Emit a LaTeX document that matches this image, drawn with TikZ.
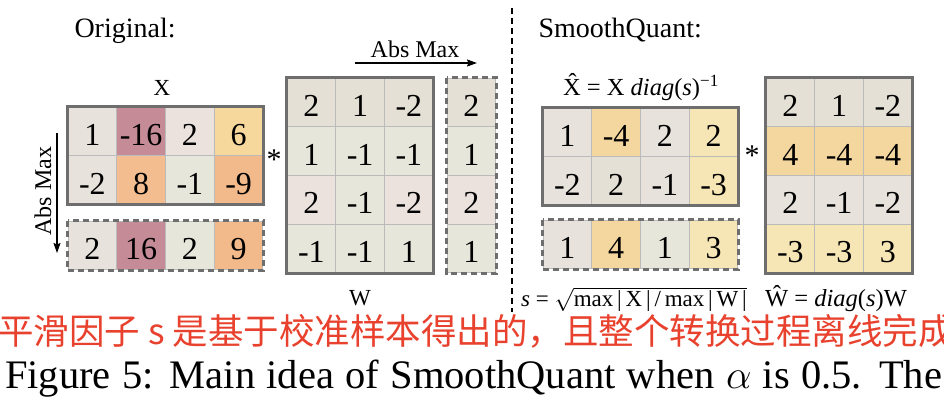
\RequirePackage{fix-cm}
\documentclass[tikz,border=0pt]{standalone}
\usepackage{fontspec}
\setmainfont{Liberation Serif}
\newfontfamily\cjk{Noto Sans CJK SC}
\usetikzlibrary{arrows.meta}
\definecolor{gridc}{HTML}{BBBBBB}
\definecolor{borderc}{HTML}{6E6E6E}
\definecolor{cgray}{HTML}{E7E2DB}
\definecolor{cbeige}{HTML}{E4E0D5}
\definecolor{cgreen}{HTML}{E6E6DB}
\definecolor{cpink}{HTML}{EBE1DD}
\definecolor{cmauve}{HTML}{C58B96}
\definecolor{cyel}{HTML}{F6D89C}
\definecolor{corange}{HTML}{F4BD8F}
\definecolor{corangeb}{HTML}{F2B98A}
\definecolor{cyelb}{HTML}{F4D79F}
\definecolor{cyelc}{HTML}{F7E6B5}
\definecolor{cnred}{RGB}{232,65,45}
\newcommand\cellat[4]{\node[cell,fill=#3] (#1) at #2 {#4};}
\begin{document}
\begin{tikzpicture}[x=1pt,y=-1pt,
  cell/.style={draw=gridc, line width=1pt, minimum width=48.75pt, minimum height=48.75pt,
    inner sep=0pt, text height=28pt, text depth=0pt, font=\fontsize{32}{32}\selectfont},
  outer/.style={draw=borderc, line width=3pt},
  dashbox/.style={draw=borderc, line width=2.5pt, dash pattern=on 6pt off 4pt},
  divider/.style={draw=black, line width=2.5pt, dash pattern=on 6pt off 4pt},
  lbl/.style={font=\fontsize{23}{23}\selectfont},
  flbl/.style={font=\fontsize{24.5}{24.5}\selectfont},
  abst/.style={font=\fontsize{24}{24}\selectfont},
  title/.style={font=\fontsize{28}{28}\selectfont, anchor=base west},
  arr/.style={line width=1.5pt, -{Stealth[length=10pt,width=7pt,inset=1.5pt]}},
  star/.style={font=\fontsize{30}{30}\selectfont, inner sep=0pt}
]
\useasboundingbox (0,0) rectangle (944,402);

% titles
\node[title] (orig) at (71,37) {Original:};
\node[title] (smq) at (535,37) {SmoothQuant:};

% divider
\coordinate (d1) at (512,8);
\coordinate (d2) at (512,312);
\draw[divider] (d1) -- (d2);

% ---------- Original X ----------
\cellat{x11}{(92.4,131.4)}{cgray}{1}
\cellat{x12}{(141.1,131.4)}{cmauve}{-16}
\cellat{x13}{(189.9,131.4)}{cpink}{2}
\cellat{x14}{(238.6,131.4)}{cyel}{6}
\cellat{x21}{(92.4,180.1)}{cgray}{-2}
\cellat{x22}{(141.1,180.1)}{corange}{8}
\cellat{x23}{(189.9,180.1)}{cgreen}{-1}
\cellat{x24}{(238.6,180.1)}{corangeb}{-9}
\draw[outer] (x11.north west) rectangle (x24.south east);

\cellat{xa1}{(92.4,245.6)}{cgray}{2}
\cellat{xa2}{(141.1,245.6)}{cmauve}{16}
\cellat{xa3}{(189.9,245.6)}{cgreen}{2}
\cellat{xa4}{(238.6,245.6)}{corangeb}{9}
\draw[dashbox] (xa1.north west) rectangle (xa4.south east);

\node[lbl, anchor=base] (xl) at (162,95) {X};

% vertical abs max arrow
\coordinate (va1) at (57,133);
\coordinate (va2) at (57,253);
\draw[arr] (va1) -- (va2);
\node[abst, rotate=90] (vat) at (43,191) {Abs Max};

\node[star] (st1) at (274,160) {*};

% ---------- Original W ----------
\cellat{w11}{(311.4,102.4)}{cbeige}{2}
\cellat{w12}{(360.1,102.4)}{cbeige}{1}
\cellat{w13}{(408.9,102.4)}{cbeige}{-2}
\cellat{w21}{(311.4,151.1)}{cgreen}{1}
\cellat{w22}{(360.1,151.1)}{cgreen}{-1}
\cellat{w23}{(408.9,151.1)}{cgreen}{-1}
\cellat{w31}{(311.4,199.9)}{cpink}{2}
\cellat{w32}{(360.1,199.9)}{cgreen}{-1}
\cellat{w33}{(408.9,199.9)}{cpink}{-2}
\cellat{w41}{(311.4,248.6)}{cgreen}{-1}
\cellat{w42}{(360.1,248.6)}{cgreen}{-1}
\cellat{w43}{(408.9,248.6)}{cgreen}{1}
\draw[outer] (w11.north west) rectangle (w43.south east);

\cellat{wa1}{(471.4,102.4)}{cbeige}{2}
\cellat{wa2}{(471.4,151.1)}{cgreen}{1}
\cellat{wa3}{(471.4,199.9)}{cpink}{2}
\cellat{wa4}{(471.4,248.6)}{cgreen}{1}
\draw[dashbox] (wa1.north west) rectangle (wa4.south east);

\node[lbl, anchor=base] (wl) at (360,305) {W};

% top abs max arrow
\coordinate (ha1) at (355,63);
\coordinate (ha2) at (477,63);
\draw[arr] (ha1) -- (ha2);
\node[abst, anchor=base] (hat) at (415,57) {Abs Max};

% ---------- SmoothQuant X hat ----------
\cellat{y11}{(567.4,132.4)}{cgray}{1}
\cellat{y12}{(616.1,132.4)}{cyelb}{-4}
\cellat{y13}{(664.9,132.4)}{cgray}{2}
\cellat{y14}{(713.6,132.4)}{cyelc}{2}
\cellat{y21}{(567.4,181.1)}{cgray}{-2}
\cellat{y22}{(616.1,181.1)}{cbeige}{2}
\cellat{y23}{(664.9,181.1)}{cgray}{-1}
\cellat{y24}{(713.6,181.1)}{cyelc}{-3}
\draw[outer] (y11.north west) rectangle (y24.south east);

\cellat{ya1}{(567.4,244.6)}{cgray}{1}
\cellat{ya2}{(616.1,244.6)}{cyelb}{4}
\cellat{ya3}{(664.9,244.6)}{cgreen}{1}
\cellat{ya4}{(713.6,244.6)}{cyelc}{3}
\draw[dashbox] (ya1.north west) rectangle (ya4.south east);

\node[flbl, anchor=base] (yl) at (641,95) {\^{X} = X \textit{diag}(\textit{s})\textsuperscript{−1}};

\node[star] (st2) at (752,156) {*};

% ---------- SmoothQuant W hat ----------
\cellat{v11}{(790.4,102.4)}{cbeige}{2}
\cellat{v12}{(839.1,102.4)}{cbeige}{1}
\cellat{v13}{(887.9,102.4)}{cbeige}{-2}
\cellat{v21}{(790.4,151.1)}{cyelb}{4}
\cellat{v22}{(839.1,151.1)}{cyelb}{-4}
\cellat{v23}{(887.9,151.1)}{cyelb}{-4}
\cellat{v31}{(790.4,199.9)}{cgray}{2}
\cellat{v32}{(839.1,199.9)}{cgray}{-1}
\cellat{v33}{(887.9,199.9)}{cgray}{-2}
\cellat{v41}{(790.4,248.6)}{cyelc}{-3}
\cellat{v42}{(839.1,248.6)}{cyelc}{-3}
\cellat{v43}{(887.9,248.6)}{cyelc}{3}
\draw[outer] (v11.north west) rectangle (v43.south east);

% formulas
\node[lbl, anchor=base west, inner sep=0pt] (sf) at (521,306)
  {\textit{s} = $\sqrt{\mbox{max\,|\,X\,|\,/\,max\,|\,W\,|}}$};
\node[flbl, anchor=base west, inner sep=0pt] (wf) at (765,306)
  {\^{W} = \textit{diag}(\textit{s})W};

% overlay Chinese text
\node[anchor=base west, inner sep=0pt, text=cnred, font=\cjk\fontsize{35.5}{35.5}\selectfont] (zh) at (-2,344)
  {平滑因子 s 是基于校准样本得出的，且整个转换过程离线完成};

% caption
\node[anchor=base west, inner sep=0pt, font=\fontsize{40.5}{40.5}\selectfont] (cap) at (5,388)
  {\makebox[937pt][s]{Figure 5: Main idea of SmoothQuant when $\alpha$ is 0.5. The}};
\end{tikzpicture}
\end{document}
